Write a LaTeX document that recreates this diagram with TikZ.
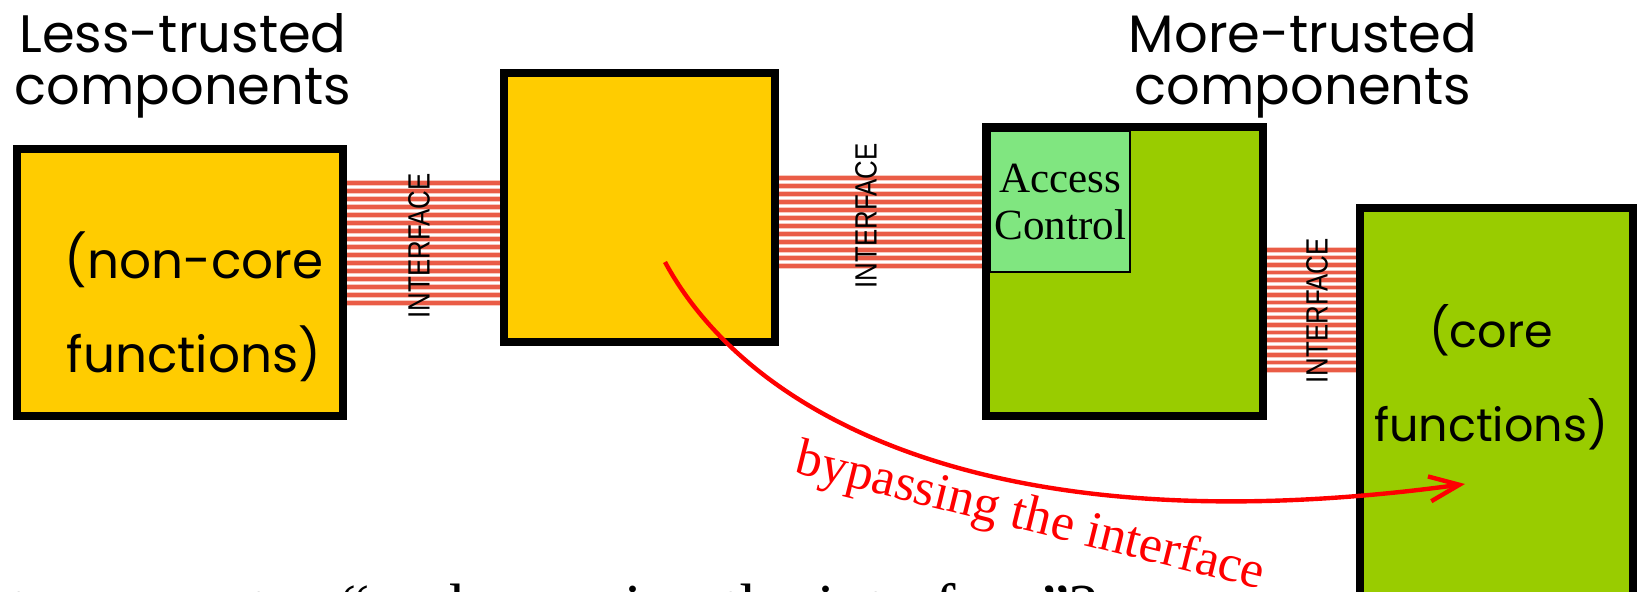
\documentclass[tikz,border=0pt]{standalone}
\usepackage{fontspec}
\usepackage{graphicx}
\setmainfont{Liberation Serif}
\setsansfont{Liberation Sans}
\newfontfamily\handfont{Poppins}
\usetikzlibrary{positioning,arrows.meta,calc}
\definecolor{lessyellow}{RGB}{255,204,0}
\definecolor{moregreen}{RGB}{153,204,0}
\definecolor{aclight}{RGB}{128,230,128}
\definecolor{ifred}{RGB}{234,92,70}
\definecolor{ifpink}{RGB}{248,200,190}
\tikzset{
  compbox/.style={draw=black, line width=4.55pt, inner sep=0pt},
  lessbox/.style={compbox, fill=lessyellow},
  morebox/.style={compbox, fill=moregreen},
  acbox/.style={draw=black, line width=0.8pt, fill=aclight, inner sep=0pt, align=center, font=\fontsize{24.5}{26.7}\selectfont},
  ifline/.style={line width=2pt, draw=ifred, preaction={draw=ifpink, line width=3.4pt}},
  iflabel/.style={rotate=90, inner sep=0pt, font=\sffamily\fontsize{17.5}{17.5}\selectfont},
  titletext/.style={align=center, font=\handfont\fontsize{30}{29.6}\selectfont},
  functext/.style={align=center, font=\handfont\fontsize{28.5}{53.5}\selectfont},
  bypass/.style={-{Straight Barb[length=6mm, width=5mm]}, line width=2.5pt, red},
  bypasslabel/.style={text=red, inner sep=0pt, font=\fontsize{29.7}{29.7}\selectfont}
}
\begin{document}
\begin{tikzpicture}[x=0.02cm, y=-0.02cm]
  \useasboundingbox (0,0) rectangle (1641,592);
  \clip (0,0) rectangle (1641,592);
  % components
  \node[lessbox, minimum width=6.52cm, minimum height=5.34cm] (lesscomp) at (180,282.5) {};
  \node[lessbox, minimum width=5.42cm, minimum height=5.38cm] (middle) at (639.5,207.5) {};
  \node[morebox, minimum width=5.54cm, minimum height=5.78cm] (morecomp) at (1124.5,271.5) {};
  \node[morebox, minimum width=5.46cm, minimum height=8.24cm] (core) at (1496.5,414) {};
  \node[acbox, minimum width=2.79cm, minimum height=2.81cm, anchor=north west] (access) at (990,131) {Access\\Control};
  % interfaces
  \foreach \y in {183,191,...,303}
    \draw[ifline] (lesscomp.east |- 0,\y) -- (middle.west |- 0,\y);
  \foreach \y in {178,186,...,266}
    \draw[ifline] (middle.east |- 0,\y) -- (morecomp.west |- 0,\y);
  \foreach \y in {250,257.5,...,371}
    \draw[ifline] (morecomp.east |- 0,\y) -- (core.west |- 0,\y);
  \node[iflabel] (iflabel1) at (419,246) {\scalebox{0.84}[1]{INTERFACE}};
  \node[iflabel] (iflabel2) at (866,216) {\scalebox{0.84}[1]{INTERFACE}};
  \node[iflabel] (iflabel3) at (1317,311) {\scalebox{0.84}[1]{INTERFACE}};
  % texts
  \node[titletext] (lesstitle) at (183,66) {Less-trusted\\components};
  \node[titletext] (moretitle) at (1303,66) {More-trusted\\components};
  \node[functext] (noncore) at (194,307) {(non-core\\functions)};
  \node[functext, font=\handfont\fontsize{26.2}{53.5}\selectfont] (coretext) at (1491,377) {(core\\functions)};
  % bypass
  \coordinate (bypassstart) at (665,262);
  \coordinate (bypassend) at (1465,484);
  \draw[bypass] (bypassstart) .. controls (745,410) and (980,550) .. (bypassend);
  \node[bypasslabel, anchor=base, rotate=-14] (bypasstext) at (1027,531) {bypassing the interface};
  \node[anchor=base west, inner sep=0pt, font=\fontsize{36.5}{36.5}\selectfont] (question) at (10,628) {to guarantee “no bypassing the interface”?};
\end{tikzpicture}
\end{document}
